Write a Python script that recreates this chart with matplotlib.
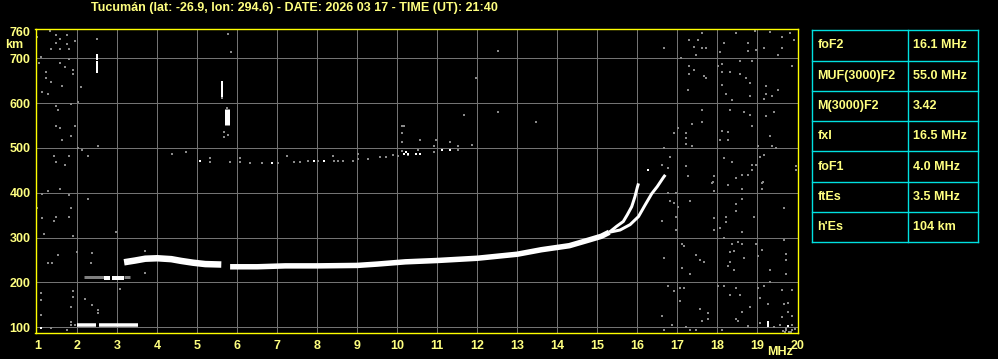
import matplotlib
matplotlib.use("Agg")
import matplotlib.pyplot as plt

# ---------------------------------------------------------
# data
# ---------------------------------------------------------
title = "Tucumán (lat: -26.9, lon: 294.6) - DATE: 2026 03 17 - TIME (UT): 21:40"

x_ticks = list(range(1, 21))
y_ticks = [100, 200, 300, 400, 500, 600, 700, 760]

# F1 part of the trace
f1_freq = [3.17, 3.45, 3.7, 4.0, 4.35, 4.6, 4.9, 5.2, 5.6]
f1_h = [245, 249, 253, 254, 252, 248, 244, 241, 240]

# F2 lower trace up to the o/x split
f2_freq = [5.82, 6.5, 7.2, 8.0, 9.0, 9.5, 10.2, 11.0, 12.0, 13.0, 13.6, 14.3, 14.8, 15.1, 15.3]
f2_h = [235, 235, 237, 237, 238, 241, 246, 249, 254, 263, 273, 282, 295, 303, 312]

# ordinary / extraordinary branches
o_freq = [15.3, 15.48, 15.65, 15.75, 15.86, 15.94, 16.0, 16.03]
o_h = [312, 325, 336, 351, 369, 391, 412, 421]
x_freq = [15.3, 15.57, 15.82, 16.03, 16.19, 16.36, 16.5, 16.65, 16.7]
x_h = [312, 317, 329, 347, 372, 398, 414, 434, 440]

# Es echoes (start freq, end freq, height)
es_f0 = [1.98, 2.55]
es_f1 = [2.46, 3.52]
es_h = [105, 104]

# 2-hop Es echoes
es2_f0 = [2.67, 2.87]
es2_f1 = [2.82, 3.17]
es2_h = [211, 211]
es2g_f0 = [2.17, 3.17]
es2g_f1 = [2.67, 3.32]
es2g_h = [212, 212]

# short vertical white marks (freq, h from, h to)
vert_f = [2.48, 2.48, 5.63, 5.74, 19.28]
vert_h0 = [696, 668, 614, 552, 101]
vert_h1 = [710, 693, 650, 587, 114]

# isolated white points
white_f = [5.07, 6.88, 7.93, 8.17, 10.18, 10.23, 10.28, 10.48, 10.58, 11.13, 11.33, 16.27, 19.78, 1.08]
white_h = [472, 466, 470, 470, 486, 490, 486, 486, 486, 495, 495, 451, 103, 98]

# gray noise points
noise_f = [
    # left side
    1.32, 1.48, 1.73, 1.58, 1.48, 1.73, 1.33, 1.58, 1.78, 1.93, 2.48, 0.98, 1.08, 1.03,
    1.58, 1.68, 1.78, 1.88, 1.88, 1.23, 1.23, 1.33, 1.63, 2.08, 1.13, 1.28, 2.03, 1.83,
    1.48, 1.53, 1.48, 1.58, 1.93, 1.83, 1.63, 2.03, 2.13, 2.53, 2.28, 1.43, 1.78, 1.48,
    1.68, 1.13, 1.28, 1.58, 1.78,
    1.13, 1.28, 1.58, 1.78, 1.83, 1.48, 1.43, 1.78, 1.13, 2.28, 0.98, 1.18, 1.88, 2.98,
    1.98, 1.53, 1.28, 1.38, 2.38, 2.33, 3.68, 3.68, 3.08, 1.88, 1.88, 2.18, 1.08, 1.08,
    1.83, 2.38, 2.53, 2.53, 1.08, 1.83, 1.33, 1.73, 1.85, 1.93,
    # middle, around the 480 km echo
    4.38, 4.72, 5.33, 5.33, 5.83, 6.08, 6.08, 6.33, 6.63, 7.03, 7.23, 7.43, 7.58, 7.78,
    8.03, 8.43, 8.53, 8.63, 8.38, 8.88, 9.03, 9.03, 9.28, 9.58, 9.73, 9.88, 10.03, 10.28,
    10.13, 10.13, 10.13, 10.18, 10.58, 10.53, 10.93, 11.53, 11.53, 11.33, 11.88, 10.93,
    10.98, 5.68, 5.68, 5.78, 5.78, 5.84, 5.63, 5.73, 12.53, 11.98, 12.53, 11.68, 13.48,
    10.13,
    # right side, upper half
    17.63, 18.48, 18.94, 19.33, 19.63, 19.83, 17.30, 17.53, 18.18, 18.78, 16.68, 17.43,
    17.63, 17.73, 18.78, 18.98, 19.18, 19.63, 19.53, 19.93, 18.07, 17.48, 17.10, 17.30,
    17.43, 17.30, 17.68, 17.73, 18.03, 18.13, 18.33, 18.13, 18.58, 18.58, 18.73, 18.88,
    18.83, 18.13, 19.23, 19.53, 19.88, 17.28, 18.23, 18.38, 18.83, 19.23, 19.38, 19.18,
    17.63, 18.33, 18.68, 18.83, 19.23, 19.43, 17.38, 17.63, 18.88, 17.03, 16.93, 17.23,
    17.23, 17.23, 18.13, 18.28, 18.08, 18.28, 19.33, 17.38, 19.03, 19.38, 19.48, 16.68,
    16.83, 18.18, 19.08, 19.18, 18.38, 18.88, 16.63, 16.78, 17.23, 18.98, 19.98, 17.28,
    17.93, 18.48, 18.63, 18.88, 18.78, 17.90, 19.15, 19.98,
    # right side, lower half
    17.88, 18.28, 18.63, 19.13, 19.13, 17.93, 16.78, 16.98, 16.83, 16.93, 17.03, 17.33,
    18.63, 18.48, 18.48, 19.68, 16.63, 16.98, 17.93, 18.23, 18.23, 18.93, 18.08, 17.93,
    18.63, 16.98, 18.18, 18.53, 18.38, 18.63, 18.33, 18.43, 18.98, 19.13, 19.03, 19.68,
    19.73, 19.73, 17.48, 17.58, 17.68, 17.13, 17.18, 16.68, 17.13, 17.33, 18.33, 18.28,
    18.43, 18.68, 19.33, 19.73, 16.78, 17.08, 17.18, 16.93, 18.03, 18.18, 18.48, 18.33,
    18.58, 19.03, 19.18, 19.33, 19.63, 19.88, 19.08, 19.28, 19.68, 19.78, 17.08, 18.83,
    18.63, 17.58, 17.78, 17.78, 17.63, 18.48, 18.53, 19.78, 19.88, 19.63, 16.63, 16.88,
    18.13, 18.78, 19.08, 19.43, 19.58, 19.73, 19.88, 17.33, 17.48, 16.68, 17.23, 19.65,
    19.72, 19.80, 19.88, 19.95, 19.70, 19.85,
]
noise_h = [
    760, 752, 752, 743, 735, 732, 720, 720, 720, 738, 743, 748, 704, 689,
    689, 681, 698, 675, 666, 670, 657, 648, 639, 637, 625, 621, 603, 599,
    594, 585, 549, 545, 549, 527, 518, 500, 496, 505, 482, 482, 482, 469,
    463, 397, 404, 408, 396,
    397, 404, 409, 396, 365, 347, 338, 346, 343, 387, 365, 307, 303, 312,
    268, 261, 243, 243, 265, 243, 271, 221, 186, 180, 167, 163, 177, 160,
    145, 150, 138, 132, 128, 111, 98, 94, 106, 106,
    486, 490, 477, 468, 468, 477, 468, 466, 466, 466, 481, 468, 468, 470,
    470, 472, 472, 472, 481, 472, 475, 486, 475, 479, 479, 484, 481, 484,
    493, 513, 533, 549, 518, 495, 490, 495, 504, 513, 506, 504,
    518, 535, 524, 530, 754, 713, 612, 590, 717, 656, 581, 573, 559,
    550,
    757, 757, 760, 759, 748, 757, 740, 740, 735, 735, 722, 726,
    722, 722, 717, 719, 722, 722, 708, 740, 713, 707, 701, 683,
    675, 666, 661, 656, 683, 687, 670, 670, 693, 666, 656, 693,
    646, 641, 638, 629, 683, 630, 620, 608, 616, 620, 616, 610,
    585, 585, 581, 574, 571, 580, 553, 557, 549, 544, 533, 533,
    522, 509, 538, 535, 518, 518, 526, 504, 504, 504, 499, 499,
    480, 477, 480, 484, 468, 462, 463, 455, 459, 461, 459, 437,
    437, 432, 440, 451, 440, 423, 423, 451,
    422, 418, 409, 422, 409, 404, 400, 400, 382, 378, 369, 382,
    387, 374, 360, 365, 338, 347, 343, 347, 334, 347, 321, 316,
    312, 316, 299, 290, 285, 285, 268, 270, 285, 272, 259, 294,
    263, 250, 262, 249, 246, 285, 281, 254, 232, 219, 246, 237,
    228, 254, 228, 219, 193, 188, 188, 180, 193, 193, 188, 171,
    171, 188, 193, 201, 184, 184, 166, 153, 151, 154, 159, 146,
    135, 140, 131, 119, 115, 119, 115, 135, 126, 122, 126, 104,
    94, 102, 109, 100, 105, 99, 104, 94, 95, 93, 100, 92,
    95, 90, 93, 96, 90, 89,
]

# scaled parameters table
par_names = ["foF2", "MUF(3000)F2", "M(3000)F2", "fxI", "foF1", "ftEs", "h'Es"]
par_values = ["16.1 MHz", "55.0 MHz", "3.42", "16.5 MHz", "4.0 MHz", "3.5 MHz", "104 km"]

# ---------------------------------------------------------
# figure
# ---------------------------------------------------------
W, H = 998, 359
txt_col = "#ffff80"
font = dict(family=["Liberation Sans", "DejaVu Sans"], weight="bold", size=9)
px = 72 / 100  # one pixel in points

fig = plt.figure(figsize=(W / 100, H / 100), dpi=100, facecolor="black")
ax = fig.add_axes([35.5 / W, 1 - 333.3 / H, (798.3 - 35.5) / W, (333.3 - 29.3) / H])
ax.set_facecolor("black")
ax.set_xlim(0.955, 20.025)
ax.set_ylim(86.6, 764.7)

for f in x_ticks[1:-1]:
    ax.axvline(f, color="#737373", lw=px, zorder=1)
for h in y_ticks[:-1]:
    ax.axhline(h, color="#737373", lw=px, zorder=1)

ax.scatter(noise_f, noise_h, s=(2.2 * px) ** 2, marker="s", color="#8a8a8a",
           linewidths=0, antialiased=False, zorder=2)

ax.hlines(es2g_h, es2g_f0, es2g_f1, color="#808080", lw=3 * px, zorder=3)
ax.hlines(es_h, es_f0, es_f1, color="white", lw=3.5 * px, zorder=4)
ax.hlines(es2_h, es2_f0, es2_f1, color="white", lw=4 * px, zorder=4)

ax.plot(f1_freq, f1_h, color="white", lw=6.5 * px, solid_capstyle="butt", zorder=4)
ax.plot(f2_freq, f2_h, color="white", lw=5.5 * px, solid_capstyle="butt", zorder=4)
ax.plot(o_freq, o_h, color="white", lw=3 * px, solid_capstyle="butt", zorder=4)
ax.plot(x_freq, x_h, color="white", lw=3 * px, solid_capstyle="butt", zorder=4)

vert_w = [2, 2, 2, 5, 2]
for f, h0, h1, w in zip(vert_f, vert_h0, vert_h1, vert_w):
    ax.plot([f, f], [h0, h1], color="white", lw=w * px, solid_capstyle="butt", zorder=4)
ax.scatter(white_f, white_h, s=(2.5 * px) ** 2, marker="s", color="white",
           linewidths=0, antialiased=False, zorder=4)

ax.set_xticks(x_ticks)
ax.set_yticks(y_ticks)
ax.tick_params(length=0, colors=txt_col)
ax.tick_params(axis="x", pad=5)
ax.tick_params(axis="y", pad=3.5)
for lab in ax.get_xticklabels() + ax.get_yticklabels():
    lab.set_fontproperties(matplotlib.font_manager.FontProperties(**font))
    lab.set_color(txt_col)
for s in ax.spines.values():
    s.set_color("#ffff00")
    s.set_linewidth(1.0)

fig.text(294 / W, 1 - 7.5 / H, title, ha="center", va="center", color=txt_col, **font)
fig.text(14 / W, 1 - 45 / H, "km", ha="center", va="center", color=txt_col, **font)
fig.text(780 / W, 1 - 352 / H, "MHz", ha="center", va="center", color=txt_col, **font)

# parameters table
tx0, tx1, ty0, ty1, tdiv = 812.3, 977.7, 30.3, 242.3, 907.7
tab = fig.add_axes([tx0 / W, 1 - ty1 / H, (tx1 - tx0) / W, (ty1 - ty0) / H])
tab.set_xlim(tx0, tx1)
tab.set_ylim(len(par_names), 0)
tab.axis("off")
cyan = "#00e0e0"
for i in range(len(par_names) + 1):
    tab.plot([tx0, tx1], [i, i], color=cyan, lw=1.0, clip_on=False)
for xv in (tx0, tdiv, tx1):
    tab.plot([xv, xv], [0, len(par_names)], color=cyan, lw=1.0, clip_on=False)
for i, (n, v) in enumerate(zip(par_names, par_values)):
    tab.text(tx0 + 5, i + 0.5, n, ha="left", va="center", color=txt_col, **font)
    tab.text(tdiv + 5, i + 0.5, v, ha="left", va="center", color=txt_col, **font)

fig.savefig("out.png", dpi=100, facecolor="black")
